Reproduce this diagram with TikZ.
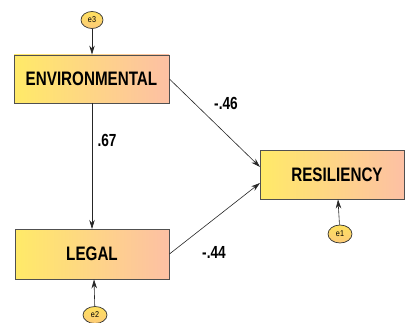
\documentclass[tikz,border=0pt]{standalone}
\usepackage{fontspec}
\setmainfont{Liberation Sans}
\newfontfamily\narrowbold[FakeStretch=0.78]{Liberation Sans Bold}
\newfontfamily\narrowreg[FakeStretch=0.85]{Liberation Sans}
\usetikzlibrary{arrows.meta,shapes.geometric}
\definecolor{boxleft}{HTML}{FFEA68}
\definecolor{boxright}{HTML}{FDC0A4}
\definecolor{boxline}{HTML}{505050}
\definecolor{errfill}{HTML}{FDD386}
\tikzset{
  varbox/.style={draw=boxline, line width=0.9pt, left color=boxleft, right color=boxright,
    inner sep=0pt, font=\narrowbold\fontsize{19.5}{20}\selectfont},
  errnode/.style={ellipse, draw=black!80, line width=0.7pt, top color=errfill!70!yellow, bottom color=errfill!90!orange,
    inner sep=0pt, font=\narrowreg\fontsize{8.5}{9}\selectfont},
  path/.style={draw=black!85, line width=0.6pt, -{Stealth[length=9pt,width=5.5pt]}},
  coef/.style={font=\narrowbold\fontsize{17.5}{18}\selectfont}
}
\begin{document}
\begin{tikzpicture}[x=1pt,y=-1pt]
\useasboundingbox (0,0) rectangle (406,323);
\node[varbox, minimum width=155pt, minimum height=48pt] (env) at (91.5,79) {ENVIRONMENTAL};
\node[varbox, minimum width=154pt, minimum height=50pt] (leg) at (92,254) {LEGAL};
\node[varbox, minimum width=144pt, minimum height=49pt, text width=144pt, align=center] (res) at (332,174.5) {\hspace*{10pt}RESILIENCY};
\node[errnode, minimum width=22pt, minimum height=17pt] (e3) at (92,20) {e3};
\node[errnode, minimum width=24pt, minimum height=17pt] (e2) at (95,315) {e2};
\node[errnode, minimum width=24pt, minimum height=18pt] (e1) at (340,234) {e1};
\coordinate (resA) at (260,167);
\coordinate (resB) at (260,183);
\coordinate (envL) at (92,103);
\coordinate (legT) at (92,229);
\draw[path] (e3) -- (e3 |- env.north);
\draw[path] (envL) -- (legT);
\draw[path] (e2) -- (leg.south -| 94,0);
\draw[path] (e1) -- (res.south -| 338,0);
\draw[path] (env.east) -- (resA);
\draw[path] (leg.east) -- (resB);
\node[coef] (c1) at (226,103) {-.46};
\node[coef] (c2) at (107,140) {.67};
\node[coef] (c3) at (214,252) {-.44};
\end{tikzpicture}
\end{document}
